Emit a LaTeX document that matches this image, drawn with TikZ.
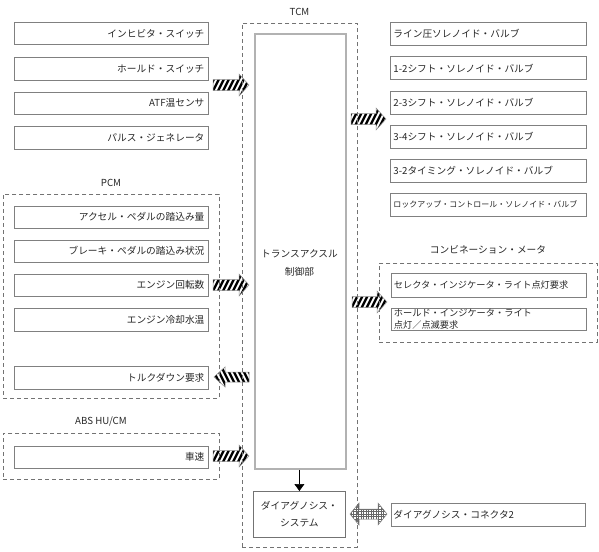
\documentclass[tikz,border=0pt]{standalone}
\usepackage{fontspec}
\setmainfont{Noto Sans CJK JP}
\usetikzlibrary{arrows.meta,calc}
\newcommand\blkR[4]{\draw[#4] (#1,#3-5.5) -- (#2-10,#3-5.5) -- (#2-10,#3-11) -- (#2,#3) -- (#2-10,#3+11) -- (#2-10,#3+5.5) -- (#1,#3+5.5) -- cycle;}
\newcommand\blkL[4]{\draw[#4] (#1,#3-5) -- (#2+11,#3-5) -- (#2+11,#3-10) -- (#2,#3) -- (#2+11,#3+10) -- (#2+11,#3+5) -- (#1,#3+5) -- cycle;}
\begin{document}
\begin{tikzpicture}[x=1pt,y=-1pt,
  txt/.style={font=\fontsize{9.7}{12}\selectfont, text=black!85},
  box/.style={txt, draw=black!50, line width=0.8pt, minimum height=22.5pt, inner sep=0pt},
  lbox/.style={box, anchor=north west, minimum width=194pt, text width=186pt, align=right},
  rbox/.style={box, anchor=north west, minimum width=196pt, text width=190pt, align=left},
  dashbox/.style={draw=black!55, dash pattern=on 4pt off 3pt, line width=0.7pt, anchor=north west, inner sep=0pt},
  hatchR/.style={draw=black!45, line width=0.5pt, fill=white, path picture={
    \foreach \i in {-60,-55,...,60}{\draw[line width=2.4pt, black] ($(path picture bounding box.center)+(\i-8,16)$) -- ++(16,-32);}}},
  hatchL/.style={draw=black!45, line width=0.5pt, fill=white, path picture={
    \foreach \i in {-60,-55,...,60}{\draw[line width=2.4pt, black] ($(path picture bounding box.center)+(\i-8,-16)$) -- ++(16,32);}}},
  gridfill/.style={draw=black!50, line width=0.5pt, fill=white, path picture={
    \foreach \i in {-30,-27.5,...,30}{
      \draw[line width=0.35pt, black!60] ($(path picture bounding box.center)+(\i,-20)$) -- ++(0,40);
      \draw[line width=0.35pt, black!60] ($(path picture bounding box.center)+(-30,\i)$) -- ++(60,0);}}},
]
\useasboundingbox (0,0) rectangle (599,551);

% block arrows
\blkR{213}{249}{85}{hatchR}
\blkR{351}{386}{119}{hatchR}
\blkR{213}{249}{285}{hatchR}
\blkL{249}{214}{377}{hatchL}
\blkR{213}{249}{456}{hatchR}
\blkR{352}{387}{302}{hatchR}
\draw[gridfill] (350,514) -- (359,503) -- (359,509) -- (378,509) -- (378,503) -- (387,514) -- (378,525) -- (378,519) -- (359,519) -- (359,525) -- cycle;

% dashed groups
\node[dashbox, minimum width=115pt, minimum height=524pt] (tcm) at (242,23) {};
\node[txt] (tcmlbl) at (299.5,12) {TCM};
\node[dashbox, minimum width=216pt, minimum height=204pt] (pcm) at (3,194) {};
\node[txt] (pcmlbl) at (111,183) {PCM};
\node[dashbox, minimum width=216pt, minimum height=46pt] (abs) at (3,433) {};
\node[txt] (abslbl) at (101,422) {ABS HU/CM};
\node[dashbox, minimum width=218pt, minimum height=79pt] (cmb) at (379,263) {};
\node[txt] (cmblbl) at (488,250) {コンビネーション・メータ};

% left inputs
\node[lbox] (i1) at (14,22) {インヒビタ・スイッチ};
\node[lbox] (i2) at (14,57) {ホールド・スイッチ};
\node[lbox] (i3) at (14,91.5) {ATF温センサ};
\node[lbox] (i4) at (14,126) {パルス・ジェネレータ};
\node[lbox] (p1) at (14,205.5) {アクセル・ペダルの踏込み量};
\node[lbox] (p2) at (14,239.5) {ブレーキ・ペダルの踏込み状況};
\node[lbox] (p3) at (14,273.5) {エンジン回転数};
\node[lbox] (p4) at (14,308) {エンジン冷却水温};
\node[lbox] (p5) at (14,366) {トルクダウン要求};
\node[lbox] (a1) at (14,445.5) {車速};

% right outputs
\node[rbox] (o1) at (390,22.5) {ライン圧ソレノイド・バルブ};
\node[rbox] (o2) at (390,56.5) {1-2シフト・ソレノイド・バルブ};
\node[rbox] (o3) at (390,91) {2-3シフト・ソレノイド・バルブ};
\node[rbox] (o4) at (390,125) {3-4シフト・ソレノイド・バルブ};
\node[rbox] (o5) at (390,159) {3-2タイミング・ソレノイド・バルブ};
\node[rbox, font=\fontsize{8}{10}\selectfont] (o6) at (390,193) {ロックアップ・コントロール・ソレノイド・バルブ};
\node[rbox, minimum width=195pt, minimum height=24pt, font=\fontsize{9.2}{12}\selectfont] (c1) at (391,273) {セレクタ・インジケータ・ライト点灯要求};
\node[rbox, minimum width=195pt, minimum height=22pt, font=\fontsize{9.2}{12}\selectfont] (c2) at (391,308) {ホールド・インジケータ・ライト\\点灯／点滅要求};
\node[rbox, minimum width=194pt] (dc) at (391,503) {ダイアグノシス・コネクタ2};

% TCM inner
\node[draw=black!30, line width=1.8pt, anchor=north west, minimum width=91pt, minimum height=435pt, inner sep=0pt] (ctrl) at (254,33) {};
\node[txt, align=center, font=\fontsize{9.7}{18}\selectfont] (ctrltxt) at (299.5,263) {トランスアクスル\\制御部};
\node[txt, draw=black!55, line width=0.8pt, anchor=north west, minimum width=92pt, minimum height=46pt, inner sep=0pt, align=center, font=\fontsize{9.7}{17}\selectfont] (diag) at (253,491) {ダイアグノシス・\\システム};
\draw[black, line width=0.6pt, -{Triangle[length=7pt,width=10pt]}] (ctrl.south -| diag.north) -- (diag.north);
\end{tikzpicture}
\end{document}
